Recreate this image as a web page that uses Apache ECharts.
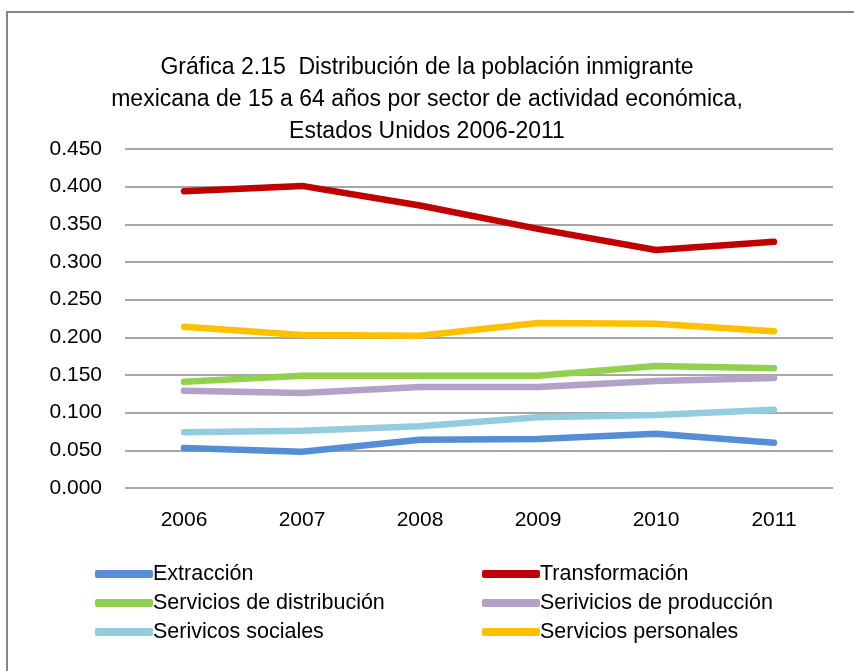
<!DOCTYPE html>
<html>
<head>
<meta charset="utf-8">
<script src="https://cdn.jsdelivr.net/npm/echarts@6/dist/echarts.min.js"></script>
<style>
  html, body { margin: 0; padding: 0; background: #fff; }
  #chart { width: 854px; height: 671px; }
</style>
</head>
<body>
<div id="chart"></div>
<script>
// Años del periodo
const years = ['2006', '2007', '2008', '2009', '2010', '2011'];

// Proporción de inmigrantes mexicanos por sector
const extraccion = [0.053, 0.048, 0.064, 0.065, 0.072, 0.060];
const transformacion = [0.394, 0.401, 0.375, 0.344, 0.316, 0.327];
const serviciosDistribucion = [0.141, 0.149, 0.149, 0.149, 0.162, 0.159];
const serviciosProduccion = [0.129, 0.126, 0.134, 0.134, 0.142, 0.146];
const serviciosSociales = [0.074, 0.076, 0.082, 0.094, 0.097, 0.104];
const serviciosPersonales = [0.214, 0.203, 0.202, 0.219, 0.218, 0.208];

const seriesNames = [
  'Extracción', 'Transformación',
  'Servicios de distribución', 'Serivicios de producción',
  'Serivicos sociales', 'Servicios personales'
];
const seriesData = [
  extraccion, transformacion,
  serviciosDistribucion, serviciosProduccion,
  serviciosSociales, serviciosPersonales
];
const colors = ['#558ED5', '#C00000', '#92D050', '#B3A2C7', '#93CDDD', '#FFC000'];

const FONT = '"Liberation Sans", Arial, sans-serif';

const chart = echarts.init(document.getElementById('chart'));

// One legend per entry, laid out in two columns
const legendCols = [95, 482];
const legendRows = [563, 592, 621];
const legends = seriesNames.map((name, i) => ({
  data: [name],
  left: legendCols[i % 2],
  top: legendRows[Math.floor(i / 2)],
  padding: 0,
  itemWidth: 58,
  itemHeight: 8,
  icon: 'roundRect',
  itemGap: 0,
  selectedMode: false,
  textStyle: { fontFamily: FONT, fontSize: 21.5, color: '#000', padding: [0, 0, 0, -5] }
}));

chart.setOption({
  animation: false,
  color: colors,
  graphic: [
    {
      type: 'polyline',
      shape: { points: [[7, 680], [7, 12], [860, 12]] },
      style: { stroke: '#868686', lineWidth: 2, fill: null },
      silent: true
    },
    {
      type: 'text',
      left: 'center',
      top: 52,
      style: {
        text: 'Gráfica 2.15  Distribución de la población inmigrante\nmexicana de 15 a 64 años por sector de actividad económica,\nEstados Unidos 2006-2011',
        font: '23px ' + FONT,
        fill: '#000',
        textAlign: 'center',
        lineHeight: 32
      }
    }
  ],
  legend: legends,
  grid: { left: 125, right: 21, top: 149, bottom: 183, containLabel: false },
  xAxis: {
    type: 'category',
    data: years,
    boundaryGap: true,
    axisLine: { show: false },
    axisTick: { show: false },
    axisLabel: { fontFamily: FONT, fontSize: 21, color: '#000', margin: 22 }
  },
  yAxis: {
    type: 'value',
    min: 0,
    max: 0.45,
    interval: 0.05,
    axisLine: { show: false },
    axisTick: { show: false },
    splitLine: { lineStyle: { color: '#888888', width: 1.5 } },
    axisLabel: {
      fontFamily: FONT, fontSize: 21, color: '#000', margin: 23,
      formatter: v => v.toFixed(3)
    }
  },
  series: seriesNames.map((name, i) => ({
    name: name,
    type: 'line',
    data: seriesData[i],
    symbol: 'none',
    lineStyle: { width: 6.5, color: colors[i], cap: 'round', join: 'round' },
    itemStyle: { color: colors[i] }
  }))
});
</script>
</body>
</html>
